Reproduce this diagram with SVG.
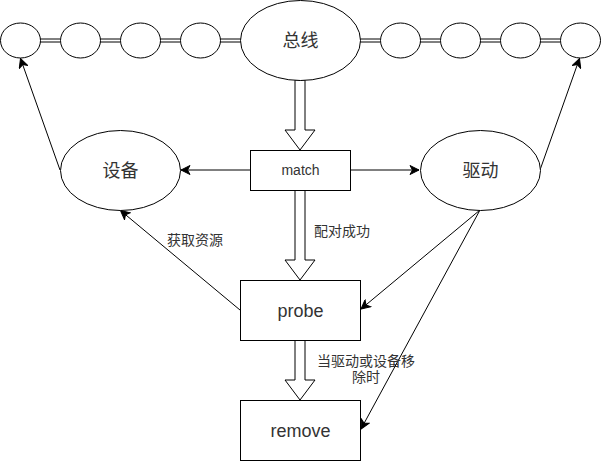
<svg xmlns="http://www.w3.org/2000/svg" width="601" height="461" viewBox="0 0 601 461">
<style>
.n{fill:#fff;stroke:#000;stroke-width:1}
.e{fill:none;stroke:#000;stroke-width:1}
.blk{fill:#fff;stroke:#000;stroke-width:1;stroke-linejoin:miter}
.t{font-family:"Liberation Sans","Noto Sans CJK SC",sans-serif;fill:#333;text-anchor:middle}
.big{font-size:18px}
.lbl{font-family:"Liberation Sans","Noto Sans CJK SC",sans-serif;fill:#333;font-size:14px}
</style>
<defs>
<marker id="ah" viewBox="-10 -5 11 10" refX="0" refY="0" markerWidth="11" markerHeight="10" markerUnits="userSpaceOnUse" orient="auto">
<path d="M0,0 L-9,-4.5 L-6.5,0 L-9,4.5 Z" fill="#000" stroke="#000" stroke-width="1"/>
</marker>
</defs>
<g id="connectors">
<g id="links">
<path class="e" d="M40,39H60M40,42H60M100,39H120M100,42H120M160,39H180M160,42H180M220,39H241M220,42H241"/>
<path class="e" d="M359,39H380M359,42H380M420,39H440M420,42H440M480,39H500M480,42H500M540,39H560M540,42H560"/>
</g>
<path class="blk" d="M295,80 L295,130 L285,130 L300,150 L315,130 L305,130 L305,80 Z"/>
<path class="blk" d="M295,190 L295,260 L285,260 L300,280 L315,260 L305,260 L305,190 Z"/>
<path class="blk" d="M295,340 L295,380 L285,380 L300,400 L315,380 L305,380 L305,340 Z"/>
<line class="e" x1="250" y1="170" x2="181" y2="170" marker-end="url(#ah)"/>
<line class="e" x1="350" y1="170" x2="419" y2="170" marker-end="url(#ah)"/>
<line class="e" x1="60" y1="170" x2="20.5" y2="58.5" marker-end="url(#ah)"/>
<line class="e" x1="540" y1="170" x2="579.5" y2="58.5" marker-end="url(#ah)"/>
<line class="e" x1="240" y1="310" x2="120.5" y2="210.5" marker-end="url(#ah)"/>
<line class="e" x1="480" y1="210" x2="361" y2="309" marker-end="url(#ah)"/>
<line class="e" x1="480" y1="210" x2="361" y2="429" marker-end="url(#ah)"/>
<text class="lbl" x="314" y="236">配对成功</text>
<text class="lbl" x="167" y="245">获取资源</text>
<text class="lbl" x="366" y="366" text-anchor="middle">当驱动或设备移</text>
<text class="lbl" x="366" y="382" text-anchor="middle">除时</text>
</g>
<g id="c1"><ellipse class="n" cx="20.5" cy="40.5" rx="20" ry="17.5"/></g>
<g id="c2"><ellipse class="n" cx="80.5" cy="40.5" rx="20" ry="17.5"/></g>
<g id="c3"><ellipse class="n" cx="140.5" cy="40.5" rx="20" ry="17.5"/></g>
<g id="c4"><ellipse class="n" cx="200.5" cy="40.5" rx="20" ry="17.5"/></g>
<g id="bus"><ellipse class="n" cx="300.5" cy="40.5" rx="60" ry="40"/><text class="t big" x="300.5" y="47">总线</text></g>
<g id="c5"><ellipse class="n" cx="400.5" cy="40.5" rx="20" ry="17.5"/></g>
<g id="c6"><ellipse class="n" cx="460.5" cy="40.5" rx="20" ry="17.5"/></g>
<g id="c7"><ellipse class="n" cx="520.5" cy="40.5" rx="20" ry="17.5"/></g>
<g id="c8"><ellipse class="n" cx="580.5" cy="40.5" rx="20" ry="17.5"/></g>
<g id="device"><ellipse class="n" cx="120.5" cy="170.5" rx="60" ry="40"/><text class="t big" x="120.5" y="177">设备</text></g>
<g id="driver"><ellipse class="n" cx="480.5" cy="170.5" rx="60" ry="40"/><text class="t big" x="480.5" y="177">驱动</text></g>
<g id="match"><rect class="n" x="250.5" y="150.5" width="100" height="40"/><text class="t" x="300.5" y="175" font-size="14">match</text></g>
<g id="probe"><rect class="n" x="240.5" y="280.5" width="120" height="60"/><text class="t big" x="300.5" y="317">probe</text></g>
<g id="remove"><rect class="n" x="240.5" y="400.5" width="120" height="60"/><text class="t big" x="300.5" y="437">remove</text></g>
</svg>
